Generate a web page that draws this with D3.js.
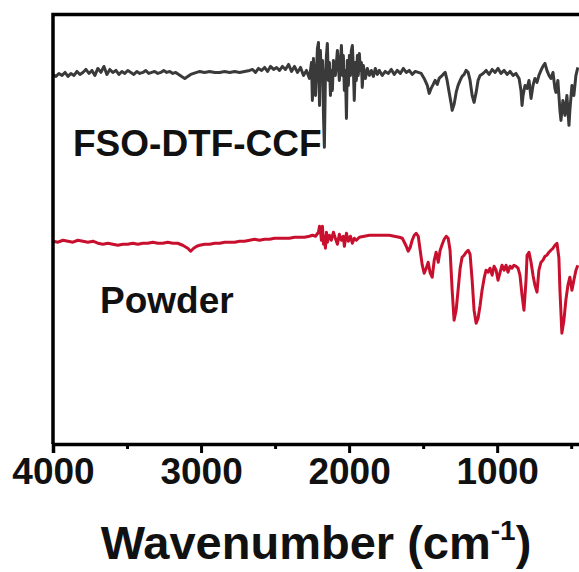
<!DOCTYPE html>
<html>
<head>
<meta charset="utf-8">
<script src="https://cdn.jsdelivr.net/npm/d3@7"></script>
<style>
  html, body { margin: 0; padding: 0; background: #fff; }
  svg { display: block; font-family: "Liberation Sans", Arial, sans-serif; }
</style>
</head>
<body>
<div id="chart"></div>
<script>
// FTIR spectra, [wavenumber cm-1, transmittance a.u.]
const ccfSpectrum = [
  [4000,37.0],[3980,36.8],[3960,37.1],[3939,36.9],[3919,37.2],[3899,36.8],[3879,37.1],[3858,36.9],
  [3838,37.3],[3818,37.0],[3798,37.2],[3778,37.5],[3757,37.1],[3737,37.4],[3717,36.9],[3697,37.6],
  [3676,37.2],[3656,37.8],[3636,37.0],[3616,37.5],[3596,37.2],[3575,37.4],[3555,37.0],[3535,37.3],
  [3515,37.1],[3495,37.4],[3474,37.2],[3454,37.0],[3434,37.3],[3414,37.1],[3393,37.2],[3373,37.4],
  [3353,37.1],[3333,37.2],[3313,37.3],[3292,37.1],[3272,37.2],[3252,37.4],[3232,37.2],[3211,37.3],
  [3191,37.1],[3171,37.2],[3151,37.0],[3131,36.8],[3110,36.6],[3090,36.8],[3070,37.0],[3050,37.1],
  [3029,37.2],[3009,37.3],[2976,37.2],[2942,37.3],[2908,37.2],[2874,37.2],[2841,37.3],[2807,37.2],
  [2773,37.3],[2740,37.2],[2706,37.3],[2672,37.4],[2652,37.5],[2632,37.2],[2612,37.6],[2591,37.4],
  [2571,37.7],[2551,37.3],[2531,37.8],[2510,37.5],[2490,37.7],[2470,37.4],[2450,37.8],[2430,37.5],
  [2409,38.0],[2389,37.3],[2369,37.8],[2349,37.2],[2328,37.7],[2308,36.9],[2288,37.4],[2268,36.6],
  [2254,38.2],[2248,34.4],[2241,38.6],[2227,34.9],[2214,39.6],[2207,40.2],[2200,33.9],[2194,39.4],
  [2187,36.4],[2180,38.4],[2173,32.9],[2167,29.7],[2160,36.9],[2153,38.9],[2147,40.1],[2140,36.4],
  [2133,38.2],[2126,34.9],[2120,37.4],[2113,35.4],[2106,38.4],[2093,36.9],[2079,39.4],[2066,36.4],
  [2052,39.9],[2045,36.9],[2039,38.9],[2032,35.4],[2025,37.4],[2018,32.6],[2012,38.4],[2005,35.9],
  [1998,38.9],[1991,36.9],[1985,39.4],[1978,39.9],[1971,37.4],[1965,34.4],[1958,38.2],[1951,36.4],
  [1944,38.9],[1938,36.9],[1931,39.1],[1924,37.4],[1917,38.2],[1911,35.7],[1904,37.9],[1890,36.6],
  [1877,37.6],[1863,36.9],[1850,37.4],[1836,36.8],[1823,37.6],[1809,37.0],[1796,37.4],[1776,36.9],
  [1756,37.3],[1735,37.1],[1715,37.5],[1695,37.0],[1675,37.4],[1654,37.1],[1634,37.6],[1614,37.2],
  [1594,37.4],[1574,37.0],[1553,37.3],[1533,37.2],[1513,37.1],[1493,36.6],[1472,35.9],[1459,35.1],
  [1446,35.6],[1432,36.0],[1419,36.4],[1405,36.0],[1392,36.6],[1378,36.8],[1365,37.0],[1351,37.2],
  [1338,36.4],[1324,35.2],[1311,34.1],[1304,33.4],[1291,34.0],[1277,35.2],[1264,35.9],[1250,36.4],
  [1237,36.8],[1223,37.0],[1210,37.4],[1196,37.2],[1183,36.4],[1169,34.9],[1156,34.2],[1142,35.2],
  [1129,36.4],[1115,36.9],[1095,37.1],[1075,37.4],[1055,37.0],[1034,37.5],[1014,37.2],[994,37.6],
  [974,37.1],[953,37.4],[933,37.0],[913,37.3],[893,36.9],[873,37.1],[852,36.6],[839,35.4],
  [832,33.9],[825,34.9],[812,35.9],[798,35.6],[785,36.4],[771,34.6],[758,35.9],[745,36.6],
  [731,36.2],[718,36.9],[704,37.4],[691,37.8],[677,38.1],[664,37.4],[650,36.9],[637,36.6],
  [623,37.2],[610,35.6],[603,35.2],[590,36.4],[576,33.4],[569,32.4],[556,34.4],[542,32.9],
  [529,34.9],[515,31.9],[509,33.4],[495,35.9],[482,34.9],[468,36.9],[455,37.7]
];

const powderSpectrum = [
  [4000,20.3],[3966,20.2],[3933,20.4],[3899,20.3],[3865,20.2],[3832,20.4],[3798,20.3],[3764,20.2],
  [3730,20.3],[3697,20.1],[3663,20.0],[3629,20.1],[3596,20.0],[3562,19.9],[3528,20.0],[3495,20.0],
  [3461,20.1],[3427,20.0],[3393,20.1],[3360,20.1],[3326,20.2],[3292,20.1],[3259,20.1],[3225,20.2],
  [3191,20.1],[3158,20.1],[3124,19.9],[3090,19.6],[3070,19.3],[3050,19.6],[3029,19.8],[3009,19.9],
  [2976,20.0],[2942,20.0],[2908,20.1],[2874,20.1],[2841,20.2],[2807,20.2],[2773,20.2],[2740,20.3],
  [2706,20.3],[2672,20.4],[2639,20.5],[2605,20.4],[2571,20.5],[2537,20.5],[2504,20.6],[2470,20.6],
  [2436,20.6],[2403,20.6],[2369,20.7],[2335,20.7],[2302,20.7],[2268,20.8],[2248,20.9],[2227,20.8],
  [2207,21.2],[2200,21.8],[2194,21.4],[2187,20.4],[2180,21.8],[2173,20.0],[2167,20.8],[2160,19.6],
  [2153,21.2],[2147,20.2],[2133,20.9],[2120,20.4],[2106,21.2],[2093,20.6],[2079,20.0],[2066,21.0],
  [2052,20.4],[2039,20.8],[2032,19.8],[2018,21.1],[2005,20.3],[1991,20.8],[1978,20.1],[1965,20.6],
  [1951,20.4],[1931,20.7],[1897,20.8],[1863,20.9],[1830,20.9],[1796,20.9],[1762,20.9],[1729,20.9],
  [1695,20.8],[1661,20.7],[1641,20.6],[1627,20.2],[1614,19.8],[1601,19.3],[1587,19.7],[1574,20.4],
  [1560,20.9],[1547,21.1],[1533,20.8],[1520,19.4],[1506,17.9],[1493,17.1],[1479,17.6],[1466,18.2],
  [1452,17.1],[1439,16.7],[1425,18.4],[1412,19.2],[1398,18.2],[1385,19.4],[1371,20.0],[1358,20.5],
  [1344,20.8],[1331,20.6],[1318,19.4],[1304,15.4],[1291,12.4],[1277,13.4],[1264,15.4],[1250,17.6],
  [1237,18.7],[1223,18.9],[1210,19.2],[1196,19.4],[1183,19.0],[1169,16.4],[1156,13.4],[1142,12.1],
  [1129,12.6],[1115,13.9],[1102,15.4],[1088,16.6],[1075,17.4],[1061,17.2],[1048,17.6],[1034,16.9],
  [1021,17.8],[1007,17.4],[994,16.4],[980,17.2],[967,17.9],[953,17.4],[940,17.9],[927,17.2],
  [913,17.8],[900,17.6],[886,17.9],[873,17.8],[859,17.6],[846,16.9],[832,14.9],[819,13.4],
  [805,16.4],[798,18.9],[785,19.2],[771,18.2],[758,16.9],[745,15.9],[731,15.2],[718,17.4],
  [704,18.2],[691,18.4],[677,18.8],[664,18.9],[650,19.2],[637,19.4],[623,19.6],[610,19.9],
  [596,20.1],[583,18.6],[576,15.4],[563,11.1],[549,12.4],[536,14.4],[522,15.9],[509,16.7],
  [495,15.4],[482,16.4],[468,17.4],[455,17.9]
];

const seriesNames = ['FSO-DTF-CCF', 'Powder'];
const seriesColors = ['#3a3a3a', '#c8102e'];
const majorTicks = [4000, 3000, 2000, 1000];
const minorTicks = [3500, 2500, 1500, 500];

const width = 579, height = 572;
const margin = { top: 14.5, right: -7, bottom: 128, left: 53 };
const w = width - margin.left - margin.right;
const h = height - margin.top - margin.bottom;

const svg = d3.select('#chart').append('svg')
  .attr('width', width).attr('height', height);

const x = d3.scaleLinear().domain([4000, 400]).range([0, w]);
const y = d3.scaleLinear().domain([0, 43]).range([h, 0]);

const g = svg.append('g').attr('transform', `translate(${margin.left},${margin.top})`);

g.append('clipPath').attr('id', 'plot-clip')
  .append('rect').attr('x', 0).attr('y', 0).attr('width', w).attr('height', h);

const line = d3.line().x(d => x(d[0])).y(d => y(d[1]));

[ccfSpectrum, powderSpectrum].forEach((data, i) => {
  g.append('path')
    .datum(data)
    .attr('clip-path', 'url(#plot-clip)')
    .attr('fill', 'none')
    .attr('stroke', seriesColors[i])
    .attr('stroke-width', 3)
    .attr('stroke-linejoin', 'round')
    .attr('d', line);
});

// frame: left + top lines
g.append('path')
  .attr('d', `M0,${h}V0H${w}`)
  .attr('fill', 'none')
  .attr('stroke', '#000')
  .attr('stroke-width', 3.5);

// bottom axis, major ticks with labels
const xAxis = g.append('g').attr('transform', `translate(0,${h})`)
  .call(d3.axisBottom(x).tickValues(majorTicks).tickSize(9).tickPadding(5).tickFormat(d3.format('d')));
xAxis.select('.domain').attr('stroke-width', 3.5);
xAxis.selectAll('.tick line').attr('stroke-width', 3);
xAxis.selectAll('.tick text')
  .attr('font-size', 37).attr('font-weight', 'bold').attr('fill', '#111')
  .attr('font-family', '"Liberation Sans", Arial, sans-serif');

const xMinor = g.append('g').attr('transform', `translate(0,${h})`)
  .call(d3.axisBottom(x).tickValues(minorTicks).tickSize(5).tickFormat(''));
xMinor.select('.domain').remove();
xMinor.selectAll('.tick line').attr('stroke-width', 3);

// axis title
const title = svg.append('text')
  .attr('x', 316).attr('y', 559)
  .attr('text-anchor', 'middle')
  .attr('font-size', 47).attr('font-weight', 'bold').attr('fill', '#111');
title.append('tspan').text('Wavenumber (cm');
title.append('tspan').attr('font-size', 28).attr('dy', -19).text('-1');
title.append('tspan').attr('dy', 19).text(')');

// series labels
g.append('text')
  .attr('x', 73 - margin.left).attr('y', 156 - margin.top)
  .attr('font-size', 37).attr('font-weight', 'bold').attr('fill', '#111')
  .text(seriesNames[0]);

g.append('text')
  .attr('x', 100 - margin.left).attr('y', 313 - margin.top)
  .attr('font-size', 37).attr('font-weight', 'bold').attr('fill', '#111')
  .text(seriesNames[1]);
</script>
</body>
</html>
